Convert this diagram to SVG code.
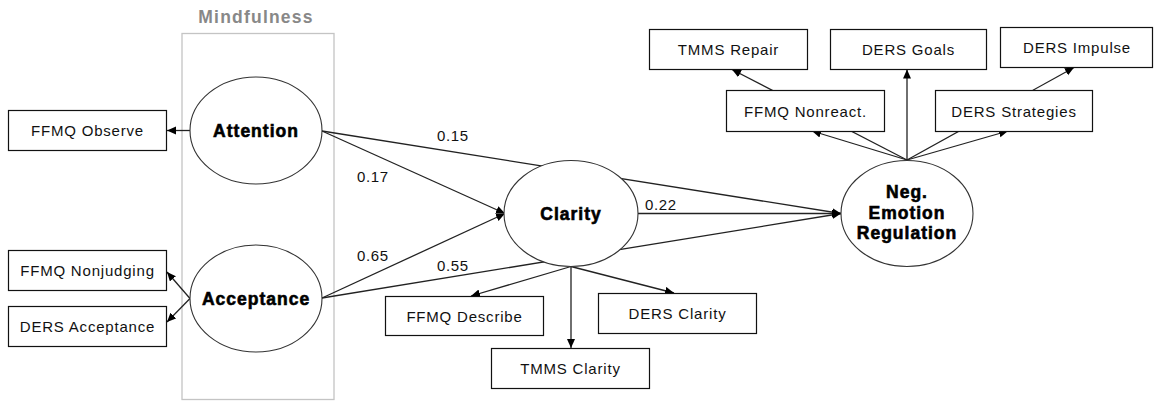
<svg xmlns="http://www.w3.org/2000/svg" width="1154" height="403" viewBox="0 0 1154 403">
<defs>
<marker id="ah" markerUnits="userSpaceOnUse" markerWidth="10" markerHeight="9" refX="9" refY="4" orient="auto">
<path d="M0,0 L9,4 L0,8 z" fill="#000"/>
</marker>
</defs>
<style>
.box{fill:#fff;stroke:#111;stroke-width:1.2}
.ell{fill:#fff;stroke:#333;stroke-width:1.1}
.lbl{font-family:"Liberation Sans",Arial,sans-serif;font-size:15px;letter-spacing:0.8px;fill:#111;text-anchor:middle}
.lat{font-family:"Liberation Sans",Arial,sans-serif;font-size:17.5px;font-weight:bold;letter-spacing:1px;fill:#000;stroke:#000;stroke-width:0.6px;text-anchor:middle}
.num{font-family:"Liberation Sans",Arial,sans-serif;font-size:15px;letter-spacing:0.6px;fill:#111}
.ca{stroke:#222;stroke-width:1.3;fill:none;marker-end:url(#ah)}
</style>
<rect width="1154" height="403" fill="#fff"/>
<g id="mindfulness">
<rect x="182" y="33.5" width="152" height="366" fill="none" stroke="#c4c4c4" stroke-width="1.3"/>
<text x="256" y="22.5" font-family="'Liberation Sans',Arial,sans-serif" font-size="17.5px" font-weight="bold" letter-spacing="1.2px" fill="#888" text-anchor="middle">Mindfulness</text>
</g>
<g id="connectors">
<line class="ca" x1="190" y1="130.5" x2="167" y2="130.5"/>
<line class="ca" x1="190" y1="298.5" x2="167" y2="272"/>
<line class="ca" x1="190" y1="298.5" x2="167" y2="322"/>
<line class="ca" x1="322" y1="131" x2="505" y2="213.5"/>
<line class="ca" x1="322" y1="298" x2="505" y2="213.5"/>
<line class="ca" x1="322" y1="131" x2="841" y2="213.5"/>
<line class="ca" x1="322" y1="298" x2="841" y2="213.5"/>
<line class="ca" x1="638" y1="213.5" x2="841" y2="213.5"/>
<line class="ca" x1="571" y1="266.5" x2="471" y2="296"/>
<line class="ca" x1="571" y1="266.5" x2="571" y2="348"/>
<line class="ca" x1="571" y1="266.5" x2="674" y2="293"/>
<line class="ca" x1="907" y1="160" x2="812" y2="131"/>
<line class="ca" x1="907" y1="160" x2="732" y2="69.5"/>
<line class="ca" x1="907" y1="160" x2="907" y2="69.5"/>
<line class="ca" x1="907" y1="160" x2="1008" y2="131"/>
<line class="ca" x1="907" y1="160" x2="1074" y2="67.5"/>
<text class="num" x="437" y="140.5">0.15</text>
<text class="num" x="357" y="181.5">0.17</text>
<text class="num" x="357" y="261">0.65</text>
<text class="num" x="437" y="270.5">0.55</text>
<text class="num" x="645" y="210">0.22</text>
</g>
<g id="attention"><ellipse class="ell" cx="256" cy="130.5" rx="66" ry="53.5"/><text class="lat" x="256" y="136.5">Attention</text></g>
<g id="acceptance"><ellipse class="ell" cx="256" cy="298.5" rx="66" ry="53.5"/><text class="lat" x="256" y="304.5">Acceptance</text></g>
<g id="clarity"><ellipse class="ell" cx="571" cy="213.5" rx="67" ry="53"/><text class="lat" x="571" y="219.5">Clarity</text></g>
<g id="negemotion"><ellipse class="ell" cx="907" cy="213.5" rx="66" ry="53"/>
<text class="lat" x="907" y="198">Neg.</text><text class="lat" x="907" y="218.5">Emotion</text><text class="lat" x="907" y="238.5">Regulation</text></g>
<g id="ffmq-observe"><rect class="box" x="8.5" y="110.5" width="158" height="40"/><text class="lbl" x="87.5" y="136">FFMQ Observe</text></g>
<g id="ffmq-nonjudging"><rect class="box" x="8.5" y="250.5" width="158" height="40"/><text class="lbl" x="87.5" y="276">FFMQ Nonjudging</text></g>
<g id="ders-acceptance"><rect class="box" x="8.5" y="306.5" width="158" height="40"/><text class="lbl" x="87.5" y="332">DERS Acceptance</text></g>
<g id="ffmq-describe"><rect class="box" x="385.5" y="296.5" width="158" height="39"/><text class="lbl" x="464.5" y="321.5">FFMQ Describe</text></g>
<g id="tmms-clarity"><rect class="box" x="491.5" y="348.5" width="158" height="40"/><text class="lbl" x="570.5" y="374">TMMS Clarity</text></g>
<g id="ders-clarity"><rect class="box" x="598.5" y="293.5" width="158" height="40"/><text class="lbl" x="677.5" y="319">DERS Clarity</text></g>
<g id="tmms-repair"><rect class="box" x="649.5" y="29.5" width="158" height="40"/><text class="lbl" x="728.5" y="55">TMMS Repair</text></g>
<g id="ders-goals"><rect class="box" x="830.5" y="29.5" width="156" height="40"/><text class="lbl" x="908.5" y="55">DERS Goals</text></g>
<g id="ders-impulse"><rect class="box" x="1000.5" y="27.5" width="152" height="40"/><text class="lbl" x="1077" y="53">DERS Impulse</text></g>
<g id="ffmq-nonreact"><rect class="box" x="726.5" y="90.5" width="158" height="41"/><text class="lbl" x="805.5" y="116.5">FFMQ Nonreact.</text></g>
<g id="ders-strategies"><rect class="box" x="935.5" y="90.5" width="157" height="41"/><text class="lbl" x="1014" y="116.5">DERS Strategies</text></g>
</svg>
